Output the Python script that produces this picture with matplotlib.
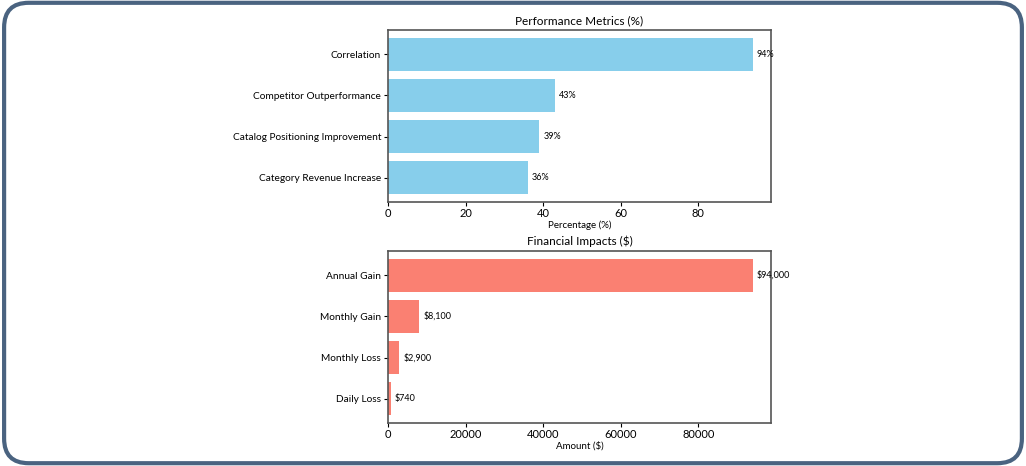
import matplotlib.pyplot as plt
from matplotlib.patches import FancyBboxPatch

plt.rcParams['font.family'] = ['Lato', 'DejaVu Sans']

metric_labels = ['Correlation', 'Competitor Outperformance',
                 'Catalog Positioning Improvement', 'Category Revenue Increase']
metric_values = [94, 43, 39, 36]

impact_labels = ['Annual Gain', 'Monthly Gain', 'Monthly Loss', 'Daily Loss']
impact_values = [94000, 8100, 2900, 740]

fig = plt.figure(figsize=(10.26, 4.66), dpi=100)

# rounded frame round the whole picture
frame = FancyBboxPatch((0.004, 0.006), 0.992, 0.988, boxstyle="round,pad=0,rounding_size=0.024",
                       transform=fig.transFigure, fill=False, edgecolor='#4a6380', linewidth=3,
                       mutation_aspect=1026/466)
fig.patches.append(frame)

W = 1026.0
H = 466.0
left = 388 / W
width = (771 - 388) / W
ax1 = fig.add_axes([left, 1 - 202 / H, width, (202 - 30) / H])
ax2 = fig.add_axes([left, 1 - 423 / H, width, (423 - 251) / H])

# top: performance metrics
y1 = list(range(len(metric_labels)))[::-1]
ax1.barh(y1, metric_values, color='#87CEEB', height=0.8)
ax1.set_yticks(y1)
ax1.set_yticklabels(metric_labels, fontsize=7.3)
ax1.set_xlim(0, max(metric_values) * 1.05)
for yy, v in zip(y1, metric_values):
    ax1.text(v + 1, yy, '{}%'.format(v), va='center', fontsize=6.5)
ax1.set_title('Performance Metrics (%)', fontsize=8.5, pad=4)
ax1.set_xlabel('Percentage (%)', fontsize=7, labelpad=1)

# bottom: financial impacts
y2 = list(range(len(impact_labels)))[::-1]
ax2.barh(y2, impact_values, color='#FA8072', height=0.8)
ax2.set_yticks(y2)
ax2.set_yticklabels(impact_labels, fontsize=7.3)
ax2.set_xlim(0, max(impact_values) * 1.05)
for yy, v in zip(y2, impact_values):
    ax2.text(v + 1000, yy, '${:,}'.format(v), va='center', fontsize=6.5)
ax2.set_title('Financial Impacts ($)', fontsize=8.5, pad=4)
ax2.set_xlabel('Amount ($)', fontsize=7, labelpad=1)

for ax in (ax1, ax2):
    ax.tick_params(axis='x', labelsize=8, length=3, pad=1.5)
    ax.tick_params(axis='y', length=3, pad=2)
    for sp in ax.spines.values():
        sp.set_color('#555555')
        sp.set_linewidth(1.2)

fig.savefig('out.png', dpi=100)
